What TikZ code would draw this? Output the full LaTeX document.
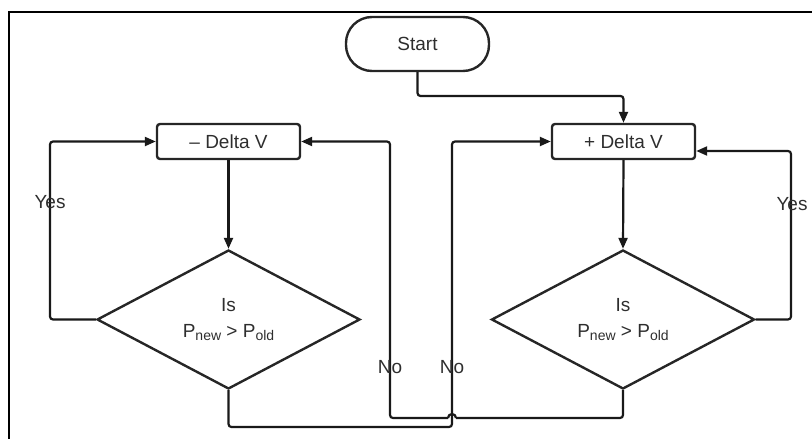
\documentclass[tikz,border=0pt]{standalone}
\usepackage{fontspec}
\setmainfont{Liberation Sans}
\usetikzlibrary{shapes.geometric,arrows.meta,calc}
\newcommand{\mysub}[1]{\raisebox{-3.5pt}{\fontsize{14}{14}\selectfont #1}}
\begin{document}
\begin{tikzpicture}[x=1pt,y=-1pt,
  every node/.style={font=\fontsize{19}{26}\selectfont, text=black!82},
  stepbox/.style={draw=black!85, line width=2.4pt, rounded corners=3pt, minimum width=143pt, minimum height=35pt, inner sep=0pt},
  startbox/.style={draw=black!85, line width=2.4pt, rounded corners=26pt, minimum width=143pt, minimum height=54pt, inner sep=0pt},
  decision/.style={draw=black!85, line width=2.4pt, diamond, minimum width=263pt, minimum height=139pt, inner sep=0pt, align=center},
  conn/.style={draw=black!90, line width=2.2pt, rounded corners=3pt},
  arr/.style={conn, -{Triangle[length=11pt,width=9pt]}},
  lbl/.style={inner sep=0pt}
]
\useasboundingbox (0,0) rectangle (812,439);
% frame
\draw[line width=2.4pt, black] (9,439) -- (9,12) -- (812,12);

\node[startbox] (start) at (417.5,44) {Start};
\node[stepbox] (minus) at (228.5,141.5) {– Delta V};
\node[stepbox] (plus) at (623.5,141.5) {+ Delta V};
\node[decision] (dl) at (228.5,319.5) {Is\\P\mysub{new} > P\mysub{old}};
\node[decision] (dr) at (623,319.5) {Is\\P\mysub{new} > P\mysub{old}};

\coordinate (s1) at (417.5,96);
\coordinate (s2) at (623.5,96);
\draw[arr] (start.south) -- (s1) -- (s2) -- (plus.north);

\draw[arr] (minus.south) -- (dl.north);
\draw[arr] (plus.south) -- (dr.north);

% left yes loop
\coordinate (ly1) at (50,319.5);
\coordinate (ly2) at (50,141.5);
\draw[arr] (dl.west) -- (ly1) -- (ly2) -- (minus.west);

% right yes loop
\coordinate (ry1) at (791,319.5);
\coordinate (ry2) at (791,151);
\coordinate (ry3) at ($(plus.east)+(0,9.5)$);
\draw[arr] (dr.east) -- (ry1) -- (ry2) -- (ry3);

% left no -> plus
\coordinate (ln1) at (228.5,427);
\coordinate (ln2) at (452,427);
\coordinate (ln3) at (452,141.5);
\draw[arr] (dl.south) -- (ln1) -- (ln2) -- (ln3) -- (plus.west);

% right no -> minus (hop over the other line)
\coordinate (rn1) at (623,418);
\coordinate (rh1) at (456,418);
\coordinate (rh2) at (448,418);
\coordinate (rn2) at (390,418);
\coordinate (rn3) at (390,141.5);
\draw[conn] (dr.south) -- (rn1) -- (rh1);
\draw[conn, rounded corners=0pt] (rh1) arc[start angle=0, end angle=-180, radius=4];
\draw[arr] (rh2) -- (rn2) -- (rn3) -- (minus.east);

% labels
\node[lbl] (yl) at (50,202) {Yes};
\node[lbl] (yr) at (792,204) {Yes};
\node[lbl] (nl) at (390,367) {No};
\node[lbl] (nr) at (452,367) {No};
\end{tikzpicture}
\end{document}
